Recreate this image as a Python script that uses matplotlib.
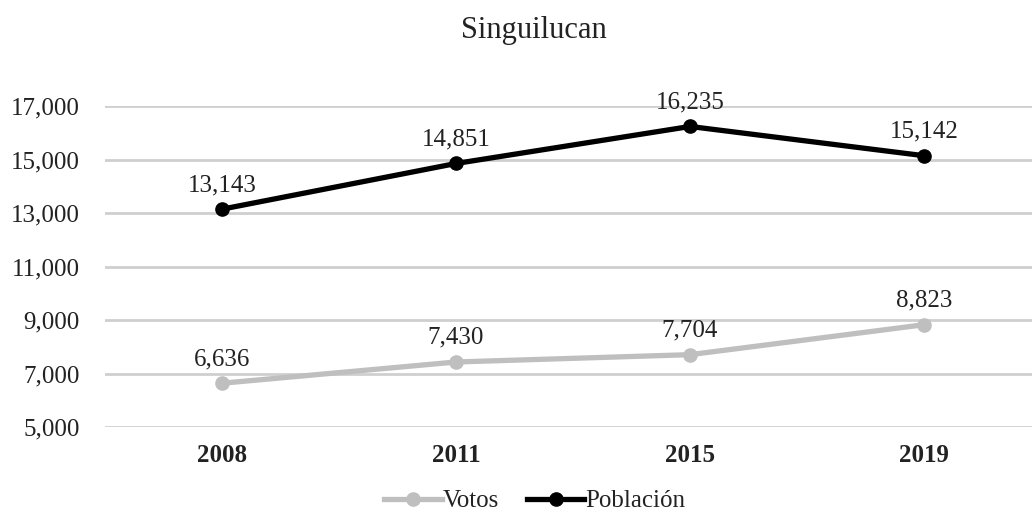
import matplotlib.pyplot as plt
from matplotlib.ticker import FuncFormatter

years = ['2008', '2011', '2015', '2019']
votos = [6636, 7430, 7704, 8823]
poblacion = [13143, 14851, 16235, 15142]
yticks = [5000, 7000, 9000, 11000, 13000, 15000, 17000]

plt.rcParams['font.family'] = ['Liberation Serif', 'DejaVu Serif']

fig = plt.figure(figsize=(10.32, 5.21), dpi=100)
ax = fig.add_axes([105 / 1032, 1 - 427 / 521, 936 / 1032, 321 / 521])

x = range(len(years))
ax.plot(x, votos, color='#bfbfbf', lw=3.8, marker='o', ms=9.5, label='Votos', zorder=3)
ax.plot(x, poblacion, color='black', lw=3.8, marker='o', ms=9.5, label='Población', zorder=3)

for i in x:
    ax.annotate(f'{votos[i]:,}', (i, votos[i]), xytext=(0, 13), textcoords='offset points',
                ha='center', va='baseline', fontsize=18, color='#222222')
    ax.annotate(f'{poblacion[i]:,}', (i, poblacion[i]), xytext=(0, 13), textcoords='offset points',
                ha='center', va='baseline', fontsize=18, color='#222222')

ax.set_xlim(-0.5, 3.5)
ax.set_ylim(5000, 17000)
ax.set_yticks(yticks)
ax.yaxis.set_major_formatter(FuncFormatter(lambda v, p: f'{int(v):,}'))
ax.set_xticks(list(x))
ax.set_xticklabels(years, fontweight='bold')
ax.tick_params(axis='both', length=0, labelsize=18, colors='#222222')
ax.tick_params(axis='x', pad=12)
ax.tick_params(axis='y', pad=18)
ax.grid(axis='y', color='#cfcfcf', lw=2)
ax.set_axisbelow(True)
for s in ax.spines.values():
    s.set_visible(False)

fig.text(534 / 1032, 1 - 38 / 521, 'Singuilucan', ha='center', va='baseline', fontsize=22,
         color='#222222')
fig.legend(loc='center', bbox_to_anchor=(535 / 1032, 1 - 501 / 521), ncol=2, frameon=False,
           fontsize=18, handlelength=2.3, handletextpad=0.05, columnspacing=1.1,
           labelcolor='#222222')

fig.savefig('out.png', dpi=100)
